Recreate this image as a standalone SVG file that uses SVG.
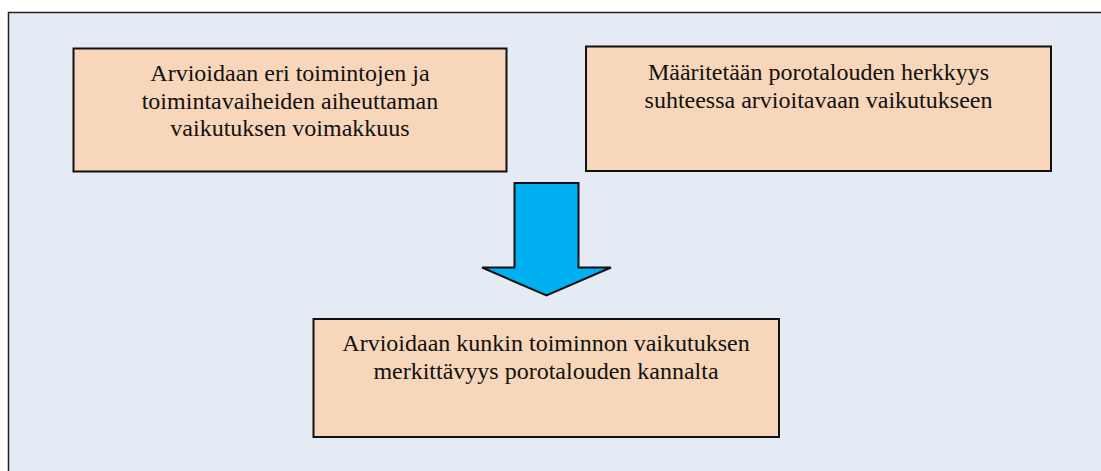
<svg xmlns="http://www.w3.org/2000/svg" width="1101" height="471" viewBox="0 0 1101 471">
<style>
.box{fill:#F8D6B9;stroke:#111;stroke-width:2}
.t{font-family:'Liberation Serif','Times New Roman','DejaVu Serif',serif;font-size:24px;fill:#111;text-anchor:middle}
</style>
<rect x="0" y="0" width="1101" height="471" fill="#FFFFFF"/>
<rect id="frame" x="8.5" y="12.5" width="1110" height="480" fill="#E4EBF5" stroke="#222" stroke-width="1.5"/>
<g id="node-impact">
<rect class="box" x="73.5" y="48.5" width="433" height="123"/>
<text class="t" font-family="Liberation Serif, serif" x="290" y="81">Arvioidaan eri toimintojen ja</text>
<text class="t" font-family="Liberation Serif, serif" x="290" y="108.5">toimintavaiheiden aiheuttaman</text>
<text class="t" font-family="Liberation Serif, serif" x="290" y="136">vaikutuksen voimakkuus</text>
</g>
<g id="node-sensitivity">
<rect class="box" x="586" y="46.5" width="465" height="124.5"/>
<text class="t" font-family="Liberation Serif, serif" x="818.5" y="79.5">Määritetään porotalouden herkkyys</text>
<text class="t" font-family="Liberation Serif, serif" x="818.5" y="107.5">suhteessa arvioitavaan vaikutukseen</text>
</g>
<g id="connectors">
<polygon points="514.5,183 578.5,183 578.5,267.5 611,267.5 546.5,295.5 482,267.5 514.5,267.5" fill="#00B0F0" stroke="#111" stroke-width="2" stroke-linejoin="miter"/>
</g>
<g id="node-significance">
<rect class="box" x="313.5" y="319" width="465.5" height="118"/>
<text class="t" font-family="Liberation Serif, serif" x="546" y="351">Arvioidaan kunkin toiminnon vaikutuksen</text>
<text class="t" font-family="Liberation Serif, serif" x="546" y="379">merkittävyys porotalouden kannalta</text>
</g>
</svg>
